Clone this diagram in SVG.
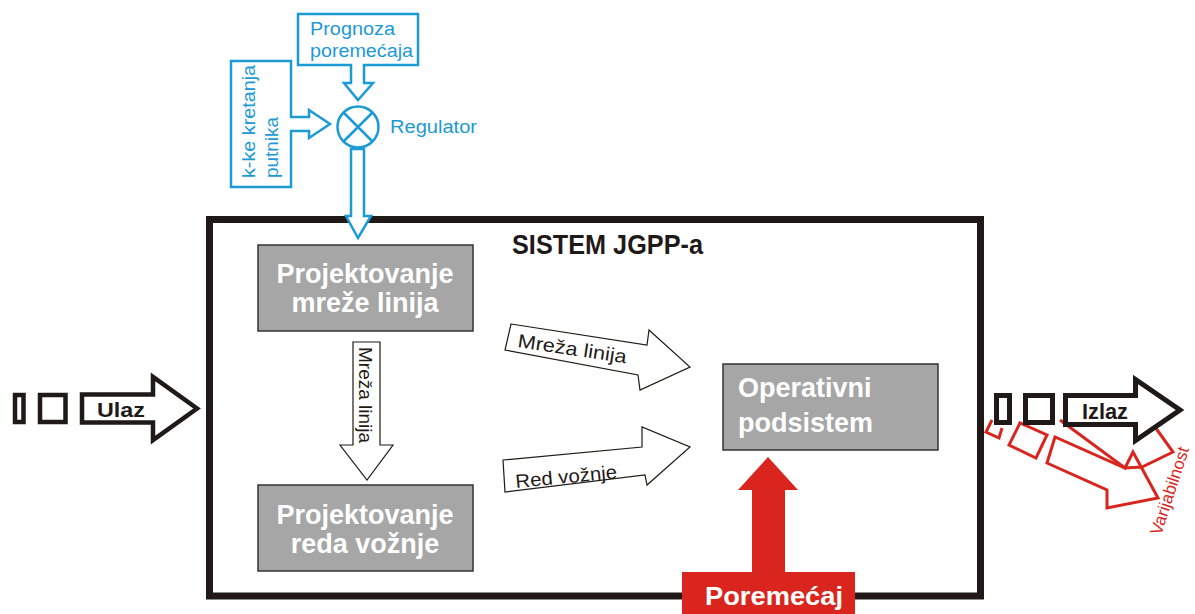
<svg xmlns="http://www.w3.org/2000/svg" width="1195" height="614" viewBox="0 0 1195 614">
<style>
.blue{fill:none;stroke:#1b9ad6;stroke-width:2.5}
.bluew{fill:#fff;stroke:#1b9ad6;stroke-width:2.5}
.bt{font-family:"Liberation Sans",Arial,sans-serif;font-size:18px;fill:#1b9ad6}
.box{fill:#a6a6a6;stroke:#333;stroke-width:1.5}
.wt{font-family:"Liberation Sans",Arial,sans-serif;font-weight:bold;font-size:27px;fill:#fff}
.thin{fill:#fff;stroke:#1f1a17;stroke-width:1.2}
.kt{font-family:"Liberation Sans",Arial,sans-serif;font-size:19px;fill:#1f1a17}
.thick{fill:#fff;stroke:#1f1a17;stroke-width:4.5}
.red{fill:none;stroke:#d9251d;stroke-width:3}
</style>
<rect width="1195" height="614" fill="#fff"/>
<g id="frame">
<rect x="209.5" y="219.5" width="771" height="376.5" fill="none" stroke="#1f1a17" stroke-width="7"/>
<text x="512" y="254" font-family="Liberation Sans,Arial,sans-serif" font-weight="bold" font-size="28" fill="#1f1a17" textLength="191" lengthAdjust="spacingAndGlyphs">SISTEM JGPP-a</text>
</g>
<g id="connectors">
<path class="bluew" d="M351,149 V216 H346 L358,238 L371,216 H364 V149 Z"/>
<path class="thin" d="M353,342 H380 V445 H393 L367,480 L340,445 H353 Z"/>
<text class="kt" transform="translate(359,347) rotate(90)" textLength="96" lengthAdjust="spacingAndGlyphs">Mreža linija</text>
<path class="thin" d="M511,324 L647,345 L649,330 L690,367 L640,390 L638,375 L505,350 Z"/>
<text class="kt" transform="translate(517,347) rotate(8.5)" textLength="110" lengthAdjust="spacingAndGlyphs">Mreža linija</text>
<path class="thin" d="M503,460 L642,447 L642,427 L690,447 L647,485 L645,475 L505,492 Z"/>
<text class="kt" transform="translate(516,488) rotate(-5.5)" textLength="102" lengthAdjust="spacingAndGlyphs">Red vožnje</text>
</g>
<g id="regulator">
<path class="bluew" d="M298,14 H418 V65 H364 V83 H373 L358,100 L344,83 H351 V65 H298 Z"/>
<text class="bt" x="310" y="35" textLength="85" lengthAdjust="spacingAndGlyphs">Prognoza</text>
<text class="bt" x="310" y="57" textLength="103" lengthAdjust="spacingAndGlyphs">poremećaja</text>
<path class="bluew" d="M231,61 H291 V117 H309 V110 L330,124 L309,138 V131 H291 V187 H231 Z"/>
<text class="bt" transform="translate(255,178) rotate(-90)" textLength="113" lengthAdjust="spacingAndGlyphs">k-ke kretanja</text>
<text class="bt" transform="translate(278,178) rotate(-90)" textLength="61" lengthAdjust="spacingAndGlyphs">putnika</text>
<circle class="bluew" cx="358" cy="127" r="20.5"/>
<path class="blue" d="M343.5,112.5 L372.5,141.5 M372.5,112.5 L343.5,141.5"/>
<text class="bt" x="390" y="133" textLength="87" lengthAdjust="spacingAndGlyphs">Regulator</text>
</g>
<g id="box1">
<rect class="box" x="258" y="245" width="215" height="86"/>
<text class="wt" x="365" y="283" text-anchor="middle">Projektovanje</text>
<text class="wt" x="365" y="312" text-anchor="middle">mreže linija</text>
</g>
<g id="box2">
<rect class="box" x="258" y="485" width="215" height="86"/>
<text class="wt" x="365" y="524" text-anchor="middle">Projektovanje</text>
<text class="wt" x="365" y="553" text-anchor="middle">reda vožnje</text>
</g>
<g id="operativni">
<rect class="box" x="723" y="364" width="215" height="86"/>
<text class="wt" x="738" y="397" font-size="25">Operativni</text>
<text class="wt" x="738" y="432" font-size="25">podsistem</text>
</g>
<g id="ulaz">
<rect x="15" y="395" width="8.5" height="27" fill="#fff" stroke="#1f1a17" stroke-width="4.5"/>
<rect x="40" y="395" width="25.5" height="27" fill="#fff" stroke="#1f1a17" stroke-width="4.5"/>
<path class="thick" d="M82,394.5 H153 V377 L197,408.5 L153,440 V422.5 H82 Z"/>
<text x="97" y="417" font-family="Liberation Sans,Arial,sans-serif" font-weight="bold" font-size="20" fill="#1f1a17" textLength="48" lengthAdjust="spacingAndGlyphs">Ulaz</text>
</g>
<g id="variabilnost">
<path class="red" d="M992,420 L986,432 L999,438 L1002,428"/>
<path class="red" d="M1020,423 L1009,445 L1036,458 L1047,435 Z"/>
<path class="red" d="M1055,437 L1047,463 L1107,490 L1107,508 L1158,498 L1133,452 L1125,468 Z"/>
<path class="red" d="M1060,420 L1125,468 L1142,467 L1173,452 L1150,420"/>
<text transform="translate(1161,536) rotate(-72)" font-family="Liberation Sans,Arial,sans-serif" font-size="17" fill="#d9251d">Varijabilnost</text>
</g>
<g id="izlaz">
<rect x="996.5" y="395.5" width="13" height="27" fill="#fff" stroke="#1f1a17" stroke-width="5"/>
<rect x="1025.5" y="395.5" width="27" height="27" fill="#fff" stroke="#1f1a17" stroke-width="5"/>
<path class="thick" style="stroke-width:5" d="M1065.5,395.5 H1135.5 V379.5 L1180,410 L1135.5,440.5 V424.5 H1065.5 Z"/>
<text x="1082" y="419" font-family="Liberation Sans,Arial,sans-serif" font-weight="bold" font-size="22" fill="#1f1a17" textLength="46" lengthAdjust="spacingAndGlyphs">Izlaz</text>
</g>
<g id="poremecaj">
<path fill="#d9251d" d="M752,572 V490 H738 L768,457 L798,490 H785 V572 Z"/>
<rect x="682" y="572" width="173" height="42" fill="#d9251d"/>
<text x="705" y="605" font-family="Liberation Sans,Arial,sans-serif" font-weight="bold" font-size="26" fill="#fff" textLength="138" lengthAdjust="spacingAndGlyphs">Poremećaj</text>
</g>
</svg>
